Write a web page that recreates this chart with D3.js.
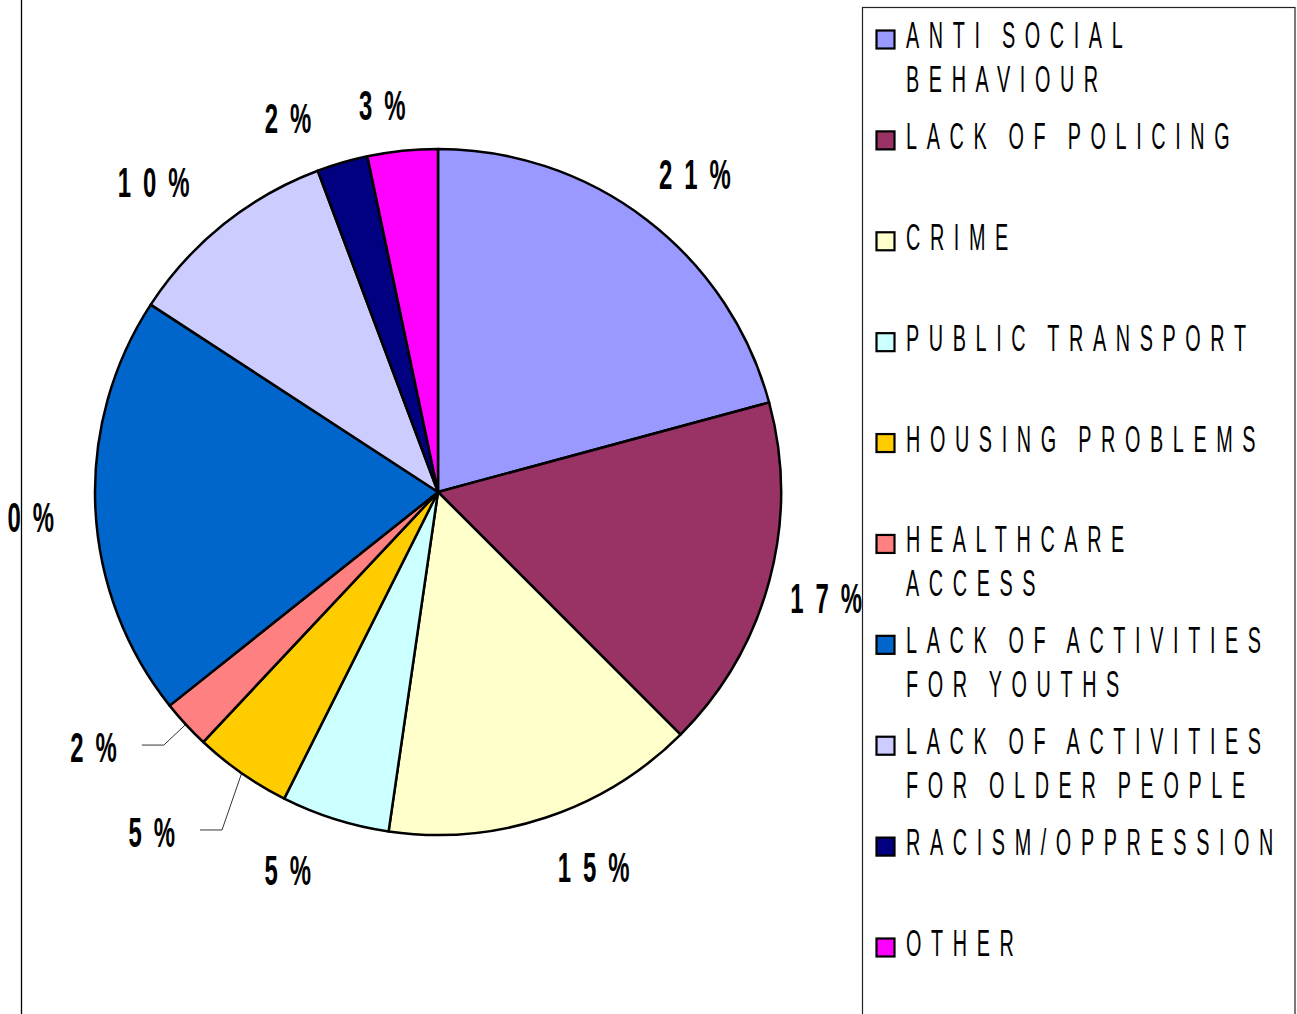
<!DOCTYPE html>
<html>
<head>
<meta charset="utf-8">
<script src="https://cdn.jsdelivr.net/npm/d3@7"></script>
<style>
  html, body { margin: 0; padding: 0; background: #fff; overflow: hidden; }
  #wrapper svg { display: block; }
  text { font-family: "Liberation Sans", Arial, sans-serif; }
</style>
</head>
<body>
<div id="wrapper"></div>
<script>
// data
const categories = [
  "ANTI SOCIAL\nBEHAVIOUR",
  "LACK OF POLICING",
  "CRIME",
  "PUBLIC TRANSPORT",
  "HOUSING PROBLEMS",
  "HEALTHCARE\nACCESS",
  "LACK OF ACTIVITIES\nFOR YOUTHS",
  "LACK OF ACTIVITIES\nFOR OLDER PEOPLE",
  "RACISM/OPPRESSION",
  "OTHER",
];
const values = [20.8, 16.7, 14.8, 5.1, 4.6, 2.3, 19.9, 10.1, 2.4, 3.3];
const valueLabels = ["21%", "17%", "15%", "5%", "5%", "2%", "20%", "10%", "2%", "3%"];
const colors = [
  "#9999FF", "#993366", "#FFFFCC", "#CCFFFF", "#FFCC00",
  "#FF8080", "#0066CC", "#CCCCFF", "#000080", "#FF00FF",
];

let dimensions = {
  width: 1297,
  height: 1014,
  cx: 438,
  cy: 492,
  radius: 343,
  labelRadius: 400,
};

// small label nudges (Excel moves some labels around)
const labelNudge = [
  [14, 0], [2, 3], [30, -5], [-30, -4], [-57, 12],
  [-50, -16], [-20, 6], [-34, 2], [-38, 10], [-14, 11],
];
const leaderLines = [4, 5];

const condense = 0.55;

const wrapper = d3.select("#wrapper").append("svg")
  .attr("width", dimensions.width)
  .attr("height", dimensions.height);

// plot area left border
wrapper.append("line")
  .attr("x1", 21.5).attr("x2", 21.5)
  .attr("y1", 0).attr("y2", dimensions.height)
  .attr("stroke", "#000")
  .attr("stroke-width", 1.3);

const bounds = wrapper.append("g")
  .attr("transform", `translate(${dimensions.cx}, ${dimensions.cy})`);

const pie = d3.pie().sort(null).value(d => d);
const arcs = pie(values);

const arcGenerator = d3.arc()
  .innerRadius(0)
  .outerRadius(dimensions.radius);

bounds.selectAll("path.slice")
  .data(arcs)
  .join("path")
  .attr("class", "slice")
  .attr("d", arcGenerator)
  .attr("fill", (d, i) => colors[i])
  .attr("stroke", "#000")
  .attr("stroke-width", 2.5)
  .attr("stroke-linejoin", "round");

const midAngle = d => (d.startAngle + d.endAngle) / 2;
const polar = (a, r) => [Math.sin(a) * r, -Math.cos(a) * r];

const labelPos = (d, i) => {
  const [x, y] = polar(midAngle(d), dimensions.labelRadius);
  return [x + labelNudge[i][0], y + 15 + labelNudge[i][1]];
};

// leader lines
bounds.selectAll("path.leader")
  .data(arcs.filter((d, i) => leaderLines.includes(i)))
  .join("path")
  .attr("class", "leader")
  .attr("fill", "none")
  .attr("stroke", "#000")
  .attr("stroke-width", 0.8)
  .attr("d", d => {
    const [lx, ly] = labelPos(d, d.index);
    const start = polar(midAngle(d), dimensions.radius);
    const endX = lx + 48;
    const y = ly - 17;
    return d3.line()([start, [endX + 22, y], [endX, y]]);
  });

// value labels
bounds.selectAll("text.value")
  .data(arcs)
  .join("text")
  .attr("class", "value")
  .attr("transform", (d, i) => {
    const [x, y] = labelPos(d, i);
    return `translate(${x}, ${y}) scale(${condense + 0.02}, 1)`;
  })
  .attr("text-anchor", "middle")
  .attr("font-weight", "bold")
  .attr("font-size", 42)
  .style("letter-spacing", "21px")
  .attr("dx", 10)
  .text((d, i) => valueLabels[i]);

// legend
const legend = wrapper.append("g");
legend.append("rect")
  .attr("x", 862.5)
  .attr("y", 7.5)
  .attr("width", 432.5)
  .attr("height", 1100)
  .attr("fill", "#fff")
  .attr("stroke", "#222")
  .attr("stroke-width", 1.2);

const itemY = d3.scalePoint()
  .domain(d3.range(categories.length))
  .range([39.5, 947.5]);

const items = legend.selectAll("g.item")
  .data(categories)
  .join("g")
  .attr("class", "item")
  .attr("transform", (d, i) => `translate(876, ${itemY(i)})`);

items.append("rect")
  .attr("x", 0.5)
  .attr("y", -9)
  .attr("width", 18)
  .attr("height", 18)
  .attr("fill", (d, i) => colors[i])
  .attr("stroke", "#000")
  .attr("stroke-width", 2.2);

items.append("text")
  .attr("transform", `translate(30, 8.5) scale(${condense}, 1)`)
  .attr("font-size", 36)
  .style("letter-spacing", "17.5px")
  .style("word-spacing", "-5px")
  .selectAll("tspan")
  .data(d => d.split("\n"))
  .join("tspan")
  .attr("x", 0)
  .attr("y", (d, i) => i * 44)
  .text(d => d);
</script>
</body>
</html>
